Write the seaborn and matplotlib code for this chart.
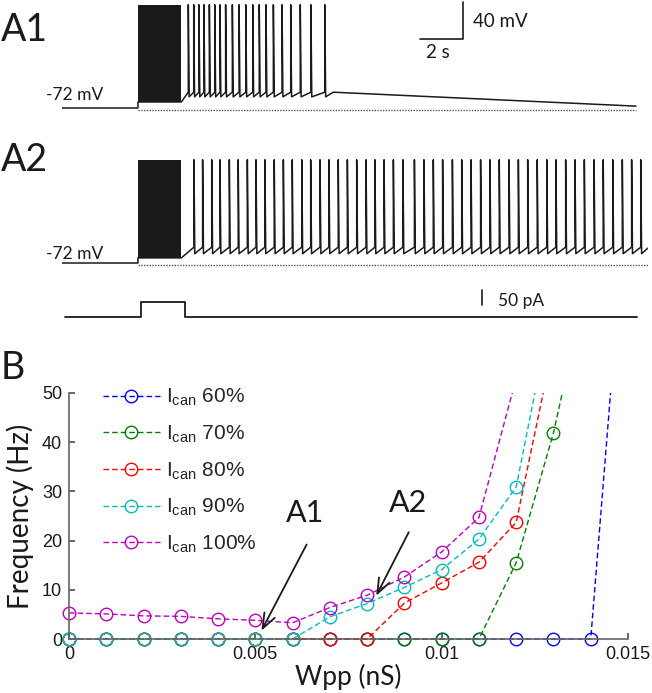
import numpy as np
import pandas as pd
import matplotlib
matplotlib.use('Agg')
import matplotlib.pyplot as plt
from matplotlib.patches import Rectangle
import seaborn as sns

#%% data
# A1 / A2 voltage traces: time in s, voltage in mV
stim_on, stim_off = 3.5, 5.5
rest_v = -72
peak_v = 39
a1_spikes = [5.82, 6.07, 6.31, 6.54, 6.79, 7.04, 7.28, 7.54, 7.85, 8.16,
             8.47, 8.79, 9.09, 9.40, 9.74, 10.14, 10.54, 10.98, 11.47, 12.11]
a1_levels = dict(floor=-65.5, pre=-55, trough=-60)
a1_tail_t = [12.5, 26.45]
a1_tail_v = [-55, -70]

a2_spikes = [6.08, 6.48, 6.90, 7.28, 7.71, 8.12, 8.54, 8.94, 9.35, 9.78,
             10.20, 10.61, 11.05, 11.46, 11.89, 12.30, 12.73, 13.15, 13.58, 14.01,
             14.42, 14.84, 15.27, 15.71, 16.24, 16.68, 17.11, 17.54, 17.99, 18.42,
             18.85, 19.29, 19.72, 20.15, 20.60, 21.03, 21.46, 21.90, 22.34, 22.76,
             23.21, 23.64, 24.07, 24.52, 24.94, 25.38, 25.82, 26.25, 26.67]
a2_levels = dict(floor=-66.5, pre=-55, trough=-62)
a2_tail_t = [27.0]
a2_tail_v = [-56]

# injected current (pA)
cur_t = [0.14, 3.65, 3.65, 5.65, 5.65, 26.5]
cur_i = [0, 0, 50, 50, 0, 0]

# B: frequency vs Wpp
wpp = [0, 0.001, 0.002, 0.003, 0.004, 0.005, 0.006, 0.007, 0.008,
       0.009, 0.010, 0.011, 0.012, 0.013, 0.014, 0.015]
freq_60 = [0, 0, 0, 0, 0, 0, 0, 0, 0, 0, 0, 0, 0, 0, 0, 94]
freq_70 = [0, 0, 0, 0, 0, 0, 0, 0, 0, 0, 0, 0, 15.5, 41.9, 76]
freq_80 = [0, 0, 0, 0, 0, 0, 0, 0, 0, 7.3, 11.4, 15.6, 23.7, 60]
freq_90 = [0, 0, 0, 0, 0, 0, 0, 4.5, 7.2, 10.5, 14.1, 20.3, 30.9, 69]
freq_100 = [5.3, 5.1, 4.7, 4.6, 4.1, 3.8, 3.3, 6.4, 8.9, 12.6, 17.7, 24.7, 53]
series = ['60%', '70%', '80%', '90%', '100%']
freqs = [freq_60, freq_70, freq_80, freq_90, freq_100]
colors = ['#0000ff', '#008000', '#ff0000', '#00bfbf', '#bf00bf']

#%% style
sns.set_theme(style='white')
plt.rcParams['font.family'] = ['Liberation Sans', 'DejaVu Sans']
plt.rcParams['mathtext.default'] = 'regular'

W, H = 652, 693
fig = plt.figure(figsize=(W / 100, H / 100), dpi=100)


def px_axes(x0, y0, x1, y1):
    return fig.add_axes([x0 / W, 1 - y1 / H, (x1 - x0) / W, (y1 - y0) / H])


def ftxt(x, y, s, **kw):
    fig.text(x / W, 1 - y / H, s, **kw)


def build_trace(spikes, lv, tail_t, tail_v):
    t = [0, stim_on, stim_on, stim_off]
    v = [rest_v, rest_v, lv['floor'], lv['floor']]
    for s in spikes:
        t += [s, s, s + 0.04]
        v += [lv['pre'], peak_v, lv['trough']]
    return t + tail_t, v + tail_v


label_font = dict(family=['Lato', 'DejaVu Sans'], color='k')

# px -> data: 21.7 px per s, 0.93 px per mV
for (y0, y1, base_px, spikes, lv, tt, tv, end_t, lab, lab_y, mv_y) in [
        (0, 118, 108, a1_spikes, a1_levels, a1_tail_t, a1_tail_v, 26.45, 'A1', 30, 95),
        (150, 275, 263, a2_spikes, a2_levels, a2_tail_t, a2_tail_v, 27.0, 'A2', 160, 254)]:
    ax = px_axes(62, y0, 648, y1)
    t, v = build_trace(spikes, lv, tt, tv)
    ax.plot(t, v, color='k', lw=1.1)
    ax.fill_between([stim_on, stim_off], lv['floor'], peak_v, color='k', lw=0)
    ax.hlines(rest_v - 2, stim_on, end_t, color='#555', lw=1, linestyle=(0, (1, 1)))
    ax.set_xlim(0, 586 / 21.7)
    ax.set_ylim(rest_v - (y1 - base_px) / 0.93, rest_v + (base_px - y0) / 0.93)
    ax.axis('off')
    ftxt(1, lab_y, lab, fontsize=27, va='center', ha='left', **label_font)
    ftxt(46, mv_y, '-72 mV', fontsize=12.5, va='center', ha='left', **label_font)
    if lab == 'A1':
        # scale bar 2 s / 40 mV
        ax.plot([16.48, 18.48, 18.48], [2, 2, 42], color='k', lw=1.2)
        ax.text(18.94, 20.5, '40 mV', fontsize=13.5, va='center', ha='left', **label_font)
        ax.text(17.3, -11.8, '2 s', fontsize=13.5, va='center', ha='center', **label_font)

# current trace
axc = px_axes(62, 280, 648, 325)
axc.plot(cur_t, cur_i, color='k', lw=1.3)
axc.plot([19.35, 19.35], [40, 90], color='k', lw=1.2)
axc.text(20.1, 53, '50 pA', fontsize=12.5, va='center', ha='left', **label_font)
axc.set_xlim(0, 586 / 21.7)
axc.set_ylim(-(325 - 317) * 50 / 15, (317 - 280) * 50 / 15)
axc.axis('off')

#%% panel B
ax = px_axes(69, 393, 628, 639)
rows = []
for name, f in zip(series, freqs):
    for x, y in zip(wpp, f):
        rows.append({'Wpp': x, 'Freq': y, 'Ican': name})
df = pd.DataFrame(rows)

for name, c in zip(series, colors):
    sub = df[df['Ican'] == name]
    sns.lineplot(data=sub, x='Wpp', y='Freq', ax=ax, color=c, lw=1,
                 linestyle=(0, (4, 2.2)), marker='o', markersize=9,
                 markerfacecolor='none', markeredgecolor=c, markeredgewidth=1,
                 sort=False, estimator=None, label=r'I$_{can}$ ' + name)

clip = Rectangle((-0.05, -0.1), 1.1, 1.1, transform=ax.transAxes)
for ln in ax.lines:
    ln.set_clip_path(clip)

ax.set_xlim(0, 0.015)
ax.set_ylim(0, 50)
ax.set_xticks([0, 0.005, 0.01, 0.015])
ax.set_xticklabels(['0', '0.005', '0.01', '0.015'])
ax.set_yticks([0, 10, 20, 30, 40, 50])
ax.tick_params(direction='in', length=4, color='#555', labelsize=13,
               labelcolor='k', left=True, bottom=True, pad=5)
for side in ['top', 'right']:
    ax.spines[side].set_visible(False)
for side in ['left', 'bottom']:
    ax.spines[side].set_color('#666')
    ax.spines[side].set_linewidth(1.2)
ax.set_xlabel('Wpp (nS)', fontsize=19, labelpad=1, **label_font)
ax.set_ylabel('Frequency (Hz)', fontsize=20, labelpad=6, **label_font)

ax.legend(loc='upper left', bbox_to_anchor=(0.06, 1.025), frameon=False,
          fontsize=15, handlelength=2.75, handletextpad=0.3, labelspacing=0.74,
          borderaxespad=0, borderpad=0)

arrow = dict(arrowstyle='->,head_length=0.9,head_width=0.35', color='k', lw=1.3)
ax.annotate('', xy=(0.00513, 1.2), xytext=(0.00641, 19.7), arrowprops=arrow)
ax.annotate('', xy=(0.00821, 8.3), xytext=(0.00915, 22.2), arrowprops=arrow)
ax.text(0.00633, 25.6, 'A1', fontsize=22, ha='center', va='center', **label_font)
ax.text(0.0091, 27.6, 'A2', fontsize=22, ha='center', va='center', **label_font)

ftxt(1, 368, 'B', fontsize=27, va='center', ha='left', **label_font)

fig.savefig('out.png', dpi=100)
